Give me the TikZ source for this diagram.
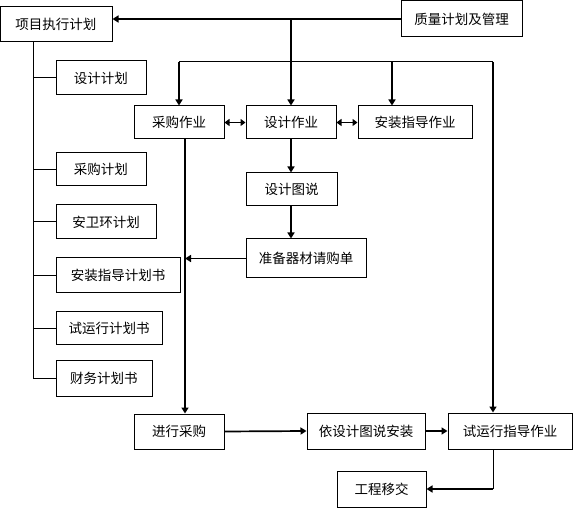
\documentclass[tikz,border=0pt]{standalone}
\usepackage{fontspec}
\newfontfamily\cjk{Noto Sans CJK SC}
\usetikzlibrary{arrows.meta}
\begin{document}
\begin{tikzpicture}[x=1pt,y=-1pt,
  box/.style={draw, line width=1pt, inner sep=0pt, font=\cjk\fontsize{13.5}{16}\selectfont},
  thinline/.style={line width=1pt},
  arr/.style={line width=1.7pt, -{Triangle[length=6pt,width=7pt]}},
  darr/.style={line width=1.7pt, {Triangle[length=5pt,width=7pt]}-{Triangle[length=5pt,width=7pt]}}]
\useasboundingbox (0,0) rectangle (574,508);
% nodes
\node[box, minimum width=112pt, minimum height=35pt] (pj) at (56,24.5) {项目执行计划};
\node[box, minimum width=121pt, minimum height=36pt] (qm) at (461.5,19) {质量计划及管理};
\node[box, minimum width=90pt, minimum height=34pt] (sjjh) at (101,78) {设计计划};
\node[box, minimum width=90pt, minimum height=33pt] (cg) at (179,122.5) {采购作业};
\node[box, minimum width=90pt, minimum height=33pt] (sj) at (291,122.5) {设计作业};
\node[box, minimum width=114pt, minimum height=33pt] (az) at (415,122.5) {安装指导作业};
\node[box, minimum width=90pt, minimum height=33pt] (cgjh) at (101,169.5) {采购计划};
\node[box, minimum width=100pt, minimum height=34pt] (awh) at (106,222) {安卫环计划};
\node[box, minimum width=124pt, minimum height=35pt] (azjh) at (118,275.5) {安装指导计划书};
\node[box, minimum width=106pt, minimum height=33pt] (syjh) at (109,328.5) {试运行计划书};
\node[box, minimum width=96pt, minimum height=35pt] (cwjh) at (104,378.5) {财务计划书};
\node[box, minimum width=91pt, minimum height=33pt] (tsh) at (291.5,189.5) {设计图说};
\node[box, minimum width=120pt, minimum height=39pt] (qgd) at (306,258.5) {准备器材请购单};
\node[box, minimum width=90pt, minimum height=35pt] (jxcg) at (179,431.5) {进行采购};
\node[box, minimum width=118pt, minimum height=36pt] (yaz) at (366,431) {依设计图说安装};
\node[box, minimum width=124pt, minimum height=36pt] (syx) at (510,431) {试运行指导作业};
\node[box, minimum width=89pt, minimum height=36pt] (gcyj) at (381.5,489) {工程移交};
% coordinates
\coordinate (t1) at (179,62);
\coordinate (t3) at (392,62);
\coordinate (t2) at (493,62);
\coordinate (cv) at (185,139);
\coordinate (tr) at (33,42);
% top connectors
\draw[arr] (qm.west) -- (qm.west -| pj.east);
\draw[arr] (sj.north |- qm.west) -- (sj.north);
\draw[thinline] (t1) -- (t2);
\draw[arr] (t1) -- (cg.north);
\draw[arr] (t3) -- (t3 |- az.north);
\draw[arr] (t2) -- (t2 |- syx.north);
% double arrows
\draw[darr] (cg.east) -- (sj.west);
\draw[darr] (sj.east) -- (az.west);
% design chain
\draw[arr] (sj.south) -- (tsh.north -| sj.south);
\draw[arr] (tsh.south -| sj.south) -- (qgd.north -| sj.south);
\draw[arr] (cv) -- (cv |- jxcg.north);
\draw[arr] (qgd.west) -- (qgd.west -| cv);
% bottom chain
\draw[arr] (jxcg.east) -- (yaz.west);
\draw[arr] (yaz.east) -- (syx.west);
\draw[thinline] (t2 |- syx.south) -- (t2 |- gcyj.east);
\draw[arr] (t2 |- gcyj.east) -- (gcyj.east);
% tree
\draw[thinline] (tr) -- (tr |- cwjh.west);
\foreach \n in {sjjh,cgjh,awh,azjh,syjh,cwjh}
  \draw[thinline] (tr |- \n.west) -- (\n.west);
\end{tikzpicture}
\end{document}
